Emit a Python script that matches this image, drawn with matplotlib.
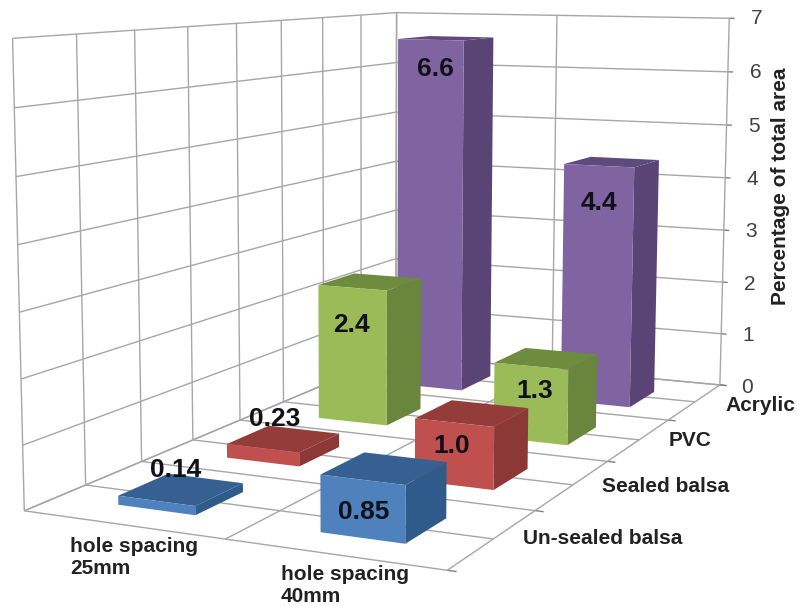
import numpy as np
import matplotlib
matplotlib.use("Agg")
import matplotlib.pyplot as plt
from mpl_toolkits.mplot3d import Axes3D  # noqa: F401

plt.rcParams['font.family'] = ['Liberation Sans', 'DejaVu Sans']

# Chart data
spacings = ['hole spacing\n25mm', 'hole spacing\n40mm']
materials = ['Un-sealed balsa', 'Sealed balsa', 'PVC', 'Acrylic']
values_25mm = [0.14, 0.23, 2.4, 6.6]
values_40mm = [0.85, 1.0, 1.3, 4.4]
value_labels_25mm = ['0.14', '0.23', '2.4', '6.6']
value_labels_40mm = ['0.85', '1.0', '1.3', '4.4']
z_ticks = [0, 1, 2, 3, 4, 5, 6, 7]
z_title = 'Percentage of total area'

W, H = 797, 607
fig = plt.figure(figsize=(W / 100, H / 100), dpi=100, facecolor='white')
side = W / H
ax = fig.add_axes([0, -(side - 1) / 2, 1, side], projection='3d', computed_zorder=False)
ax.set_axis_off()
ax.set_xticks([])
ax.set_yticks([])
ax.set_zticks([])
ax.apply_aspect()

# Camera calibration: world point (spacing, material, percent) and its figure pixel
world = [(0, 0, 0), (1, 0, 0), (2, 0, 0), (2, 1, 0), (2, 2, 0), (2, 3, 0), (2, 4, 0), (0, 4, 0), (1, 4, 0),
         (0, 0, 7), (0, .5, 7), (0, 1, 7), (0, 1.5, 7), (0, 2, 7), (0, 2.5, 7), (0, 3, 7), (0, 3.5, 7), (0, 4, 7),
         (1, 4, 7), (2, 4, 7), (2, 4, 6), (2, 4, 5), (2, 4, 4), (2, 4, 3), (2, 4, 2), (2, 4, 1)]
pixel = [(24, 513), (227, 539), (445, 567), (537, 510), (607, 462), (670, 422), (720, 387), (394, 352), (553, 368),
         (12, 37), (76, 34), (134, 31), (187, 27), (237, 24), (282, 21), (323, 18), (362, 15), (397, 13),
         (557, 15), (729, 17), (728, 71), (726, 125), (725, 178), (723, 230), (722, 283), (721, 334)]

display = np.array([(px, H - py) for px, py in pixel], float)
target = ax.transData.inverted().transform(display)
rows = []
for (X, Y, Z), (u, v) in zip(world, target):
    rows.append([X, Y, Z, 1, 0, 0, 0, 0, -u * X, -u * Y, -u * Z, -u])
    rows.append([0, 0, 0, 0, X, Y, Z, 1, -v * X, -v * Y, -v * Z, -v])
cam = np.linalg.svd(np.array(rows))[2][-1].reshape(3, 4)
cam = cam / (cam[2] @ np.array([1, 2, 3, 1]))
proj = np.vstack([cam[0], cam[1], [0, 0, 0, -1], cam[2]])
ax.get_proj = lambda: proj
to_figure = ax.transData + fig.transFigure.inverted()


def text_3d(x, y, z, text, **kw):
    # Project a world point and place the text flat on the figure, above every bar
    u, v, w = cam @ np.array([x, y, z, 1.0])
    fx, fy = to_figure.transform((u / w, v / w))
    fig.text(fx, fy, text, ha='center', va='center', zorder=100, **kw)


GRID = '#a6a6a6'
AXIS = '#808080'


def seg(a, b, color=GRID, lw=1.0):
    ax.plot([a[0], b[0]], [a[1], b[1]], [a[2], b[2]], color=color, lw=lw, zorder=1, solid_capstyle='butt')


# Walls and floor grid
for z in z_ticks:
    seg((0, 0, z), (0, 4, z))
    seg((0, 4, z), (2, 4, z))
    seg((2, 4, z), (2.03, 4, z), AXIS)
for y in np.arange(0, 4.01, 0.5):
    seg((0, y, 0), (0, y, 7))
    seg((0, y, 0), (2, y, 0))
for y in range(5):
    seg((2, y, 0), (2.04, y, 0), AXIS)
for x in (0, 1, 2):
    seg((x, 0, 0), (x, 4, 0))
    seg((x, 4, 0), (x, 4, 7))

# Bars, back row first
bar_w, bar_d = 0.39, 0.44
palette = [('#4f81bd', '#376092', '#2f5b8a'),
           ('#c0504d', '#943c3a', '#8c3836'),
           ('#9bbb59', '#6f8c3e', '#6a853c'),
           ('#8064a2', '#5e4a7c', '#5a4476')]
clear = (0, 0, 0, 0)
series = [values_25mm, values_40mm]
row_drift = [0.015, 0.008]


def bar_x(i, j):
    return i + 0.315 - 0.005 * i + row_drift[i] * j


def bar_y(j):
    return 0.27 + 0.98 * j


for j in range(3, -1, -1):
    for i, vals in enumerate(series):
        front, top, right = palette[j]
        ax.bar3d(bar_x(i, j), bar_y(j), 0, bar_w, bar_d, vals[j],
                 color=[clear, top, front, clear, clear, right],
                 shade=False, linewidth=0, zorder=10 + (3 - j) * 2 + i)

# Value labels: flat bars carry theirs above the top, the others on the front face
label_z = [[0.43, 0.54, 1.74, 6.06], [0.38, 0.62, 0.87, 3.72]]
label_dx = [[-0.03, -0.05, -0.005, 0.03], [0.005, -0.01, 0.02, 0.005]]
for i, labels in enumerate((value_labels_25mm, value_labels_40mm)):
    for j, text in enumerate(labels):
        small = series[i][j] < 0.5
        text_3d(bar_x(i, j) + bar_w / 2 + label_dx[i][j],
                bar_y(j) + (bar_d / 2 if small else 0), label_z[i][j],
                text, fontsize=19, fontweight='bold', color='#101018')

# Percent axis numbers
for z in z_ticks:
    text_3d(2.155, 4, z, str(z), fontsize=15, color='#404040')


def label_at(px, py, text, **kw):
    fig.text(px / W, 1 - py / H, text, fontsize=15, fontweight='bold', color='#222222', **kw)


label_at(781, 186, z_title, rotation=90, ha='center', va='center')
label_at(70, 557.5, spacings[0], ha='left', va='center', linespacing=1.2)
label_at(281, 586, spacings[1], ha='left', va='center', linespacing=1.2)
label_at(603, 539, materials[0], ha='center', va='center')
label_at(666, 486, materials[1], ha='center', va='center')
label_at(690, 441, materials[2], ha='center', va='center')
label_at(760, 405.5, materials[3], ha='center', va='center')

fig.savefig('out.png', dpi=100)
